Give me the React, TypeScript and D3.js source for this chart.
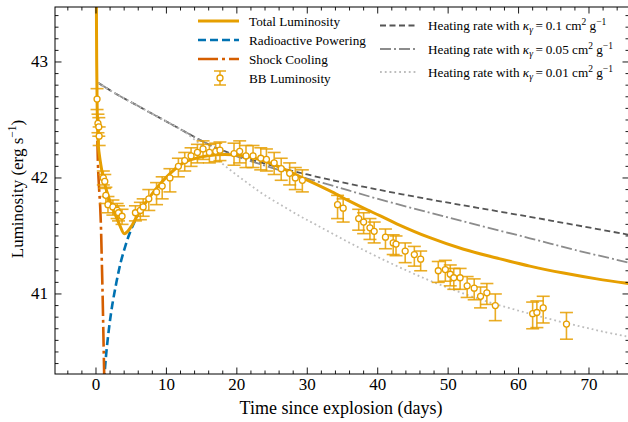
import * as d3 from "d3";

// model curves, [day, log10 L]
const totalLum: [number, number][] = [
  [0.05, 43.6], [0.1, 43.0], [0.17, 42.6], [0.33, 42.28], [0.57, 42.16], [1.04, 42.0],
  [1.75, 41.84], [2.7, 41.69], [3.4, 41.59], [4.0, 41.52], [4.5, 41.54], [5.1, 41.59],
  [6.0, 41.69], [7.67, 41.84], [10.04, 42.01], [12.4, 42.13], [14.8, 42.18], [17.1, 42.2],
  [19.5, 42.2], [21.9, 42.18], [24.2, 42.14], [26.6, 42.08], [29.0, 42.01], [31.3, 41.945],
  [33.5, 41.88], [36.0, 41.8], [38.0, 41.74], [40.3, 41.675], [42.7, 41.605], [47.4, 41.485],
  [52.2, 41.385], [56.9, 41.31], [61.6, 41.24], [66.4, 41.18], [71.1, 41.13], [75.7, 41.09],
];
const radioactive: [number, number][] = [
  [1.15, 40.25], [1.4, 40.45], [1.8, 40.68], [2.3, 40.9], [2.9, 41.1], [3.5, 41.27],
  [4.1, 41.4], [4.7, 41.51], [5.3, 41.6], [6.0, 41.69],
];
const shockCooling: [number, number][] = [
  [0.2, 42.32], [0.3, 42.08], [0.45, 41.9], [0.6, 41.75], [0.72, 41.55], [0.82, 41.3],
  [0.92, 41.05], [1.02, 40.75], [1.1, 40.5], [1.2, 40.2],
];
const heat010: [number, number][] = [
  [0.3, 42.82], [3, 42.72], [6, 42.62], [9, 42.52], [12, 42.42], [15, 42.32], [17, 42.26],
  [20, 42.195], [23, 42.14], [27, 42.075], [30, 42.03], [33.2, 41.985], [40, 41.9],
  [47.4, 41.815], [54, 41.745], [61.6, 41.665], [68, 41.595], [75.7, 41.51],
];
const heat005: [number, number][] = [
  [0.3, 42.82], [3, 42.72], [6, 42.62], [9, 42.52], [12, 42.42], [15, 42.32], [17, 42.26],
  [20, 42.185], [23, 42.125], [27, 42.05], [30, 41.995], [33.2, 41.94], [36, 41.89],
  [40.3, 41.815], [47.4, 41.7], [54.5, 41.59], [61.6, 41.48], [68, 41.38], [75.7, 41.27],
];
const heat001: [number, number][] = [
  [0.3, 42.82], [3, 42.72], [6, 42.62], [9, 42.52], [12, 42.42], [14, 42.33], [16, 42.225],
  [18, 42.12], [20, 42.025], [22, 41.935], [24, 41.85], [26.6, 41.755], [29, 41.67],
  [31.3, 41.595], [34.2, 41.5], [37, 41.41], [40.3, 41.31], [44, 41.205], [47.4, 41.115],
  [51, 41.03], [54.5, 40.955], [58, 40.89], [61.6, 40.83], [65, 40.775], [68.8, 40.72],
  [72, 40.675], [75.7, 40.63],
];

// blackbody luminosity points
const bbDay = [
  0.15, 0.28, 0.4, 0.45, 1.04, 1.25, 1.4, 1.7, 2.4, 3.0, 3.2, 3.7, 5.6, 6.3, 6.7, 7.5,
  8.6, 9.4, 10.5, 11.7, 12.6, 13.5, 14.4, 15.2, 16.1, 17.0, 17.6, 19.6, 20.4, 21.3, 22.3,
  23.4, 24.2, 25.3, 26.3, 27.5, 28.3, 29.3, 34.3, 35.1, 37.3, 38.0, 38.9, 39.5, 41.1,
  42.2, 42.6, 43.9, 45.2, 46.1, 48.6, 49.6, 50.3, 50.8, 51.7, 52.7, 53.7, 54.6, 55.5,
  56.7, 62.0, 62.6, 63.5, 66.8,
];
const bbLog = [
  42.68, 42.47, 42.44, 42.36, 42.0, 41.97, 41.85, 41.77, 41.75, 41.72, 41.7, 41.67, 41.7,
  41.72, 41.75, 41.82, 41.88, 41.93, 42.0, 42.1, 42.15, 42.19, 42.22, 42.25, 42.22, 42.23,
  42.24, 42.21, 42.23, 42.19, 42.19, 42.17, 42.16, 42.13, 42.08, 42.04, 42.0, 41.98,
  41.77, 41.74, 41.65, 41.62, 41.57, 41.54, 41.49, 41.44, 41.43, 41.37, 41.34, 41.3,
  41.2, 41.21, 41.17, 41.14, 41.14, 41.07, 41.05, 40.98, 41.01, 40.9, 40.83, 40.84,
  40.88, 40.74,
];
const bbErrLo = [
  0.09, 0.08, 0.08, 0.08, 0.06, 0.06, 0.07, 0.07, 0.07, 0.07, 0.07, 0.07, 0.07, 0.08,
  0.08, 0.1, 0.11, 0.11, 0.12, 0.09, 0.09, 0.09, 0.09, 0.09, 0.09, 0.09, 0.09, 0.1, 0.1,
  0.1, 0.1, 0.1, 0.1, 0.1, 0.1, 0.1, 0.1, 0.1, 0.12, 0.12, 0.1, 0.1, 0.1, 0.1, 0.1, 0.1,
  0.1, 0.1, 0.1, 0.1, 0.1, 0.1, 0.1, 0.1, 0.1, 0.1, 0.1, 0.1, 0.1, 0.13, 0.13, 0.13,
  0.13, 0.13,
];
const bbErrHi = [
  0.09, 0.08, 0.08, 0.08, 0.06, 0.06, 0.07, 0.07, 0.06, 0.06, 0.06, 0.06, 0.06, 0.07,
  0.07, 0.08, 0.08, 0.08, 0.08, 0.07, 0.07, 0.07, 0.07, 0.07, 0.07, 0.07, 0.07, 0.09,
  0.09, 0.09, 0.09, 0.09, 0.09, 0.09, 0.09, 0.09, 0.09, 0.09, 0.08, 0.08, 0.08, 0.08,
  0.08, 0.08, 0.07, 0.07, 0.07, 0.07, 0.07, 0.07, 0.08, 0.08, 0.08, 0.08, 0.08, 0.08,
  0.08, 0.08, 0.08, 0.1, 0.1, 0.1, 0.1, 0.1,
];

const xTicks = [0, 10, 20, 30, 40, 50, 60, 70];
const yTicks = [41, 42, 43];
const heatingKappa = ["0.1", "0.05", "0.01"];

const ORANGE = "#E69F00";
const BLUE = "#0072B2";
const VERM = "#D55E00";
const FONT = "'Liberation Serif', 'Times New Roman', serif";

function App() {
  const left = 55, right = 629, top = 7, bottom = 374;
  const x = d3.scaleLinear().domain([-5.82, 75.68]).range([left, right]);
  const y = d3.scaleLinear().domain([40.31, 43.474]).range([bottom, top]);
  const line = d3
    .line<[number, number]>()
    .x((d) => x(d[0]))
    .y((d) => y(d[1]))
    .curve(d3.curveCatmullRom.alpha(0.5));

  const xMinor = d3.range(-4, 76, 2).filter((v) => v % 10 !== 0);
  const yMinor = d3.range(40.4, 43.45, 0.1).filter((v) => Math.abs(v - Math.round(v)) > 0.01);

  const heatStyles = [
    { color: "#555555", dash: "6,3.5", data: heat010 },
    { color: "#8c8c8c", dash: "11,3,2,3", data: heat005 },
    { color: "#bdbdbd", dash: "1.8,3", data: heat001 },
  ];

  const legY = [21, 40, 59, 78];
  const legY2 = [25.5, 49, 72];

  return (
    <svg
      width={628}
      height={422}
      style={{ position: "absolute", left: 0, top: 0, background: "#fff" }}
      fontFamily={FONT}
    >
      <defs>
        <clipPath id="plot">
          <rect x={left} y={top} width={right - left} height={bottom - top} />
        </clipPath>
      </defs>

      <g clipPath="url(#plot)">
        {heatStyles.map((h, i) => (
          <path key={i} d={line(h.data) ?? ""} fill="none" stroke={h.color} strokeWidth={1.8} strokeDasharray={h.dash} />
        ))}
        <path d={line(radioactive) ?? ""} fill="none" stroke={BLUE} strokeWidth={2.6} strokeDasharray="8,4" />
        <path d={line(shockCooling) ?? ""} fill="none" stroke={VERM} strokeWidth={2.6} strokeDasharray="20,4,3,4" />
        <path d={line(totalLum) ?? ""} fill="none" stroke={ORANGE} strokeWidth={3} />
        {bbDay.map((d, i) => {
          const cx = x(d);
          const y1 = y(bbLog[i] + bbErrHi[i]);
          const y2 = y(bbLog[i] - bbErrLo[i]);
          return (
            <g key={i} stroke={ORANGE} strokeOpacity={0.85} strokeWidth={1.6}>
              <line x1={cx} x2={cx} y1={y1} y2={y2} />
              <line x1={cx - 6.5} x2={cx + 6.5} y1={y1} y2={y1} />
              <line x1={cx - 6.5} x2={cx + 6.5} y1={y2} y2={y2} />
            </g>
          );
        })}
        {bbDay.map((d, i) => (
          <circle key={i} cx={x(d)} cy={y(bbLog[i])} r={3} fill="#fff" stroke={ORANGE} strokeWidth={1.3} />
        ))}
      </g>

      {/* ticks, inward on all sides */}
      <g stroke="#000" strokeWidth={0.9}>
        {xTicks.map((t) => (
          <g key={"xt" + t}>
            <line x1={x(t)} x2={x(t)} y1={bottom} y2={bottom - 6.5} />
            <line x1={x(t)} x2={x(t)} y1={top} y2={top + 6.5} />
          </g>
        ))}
        {xMinor.map((t) => (
          <g key={"xm" + t}>
            <line x1={x(t)} x2={x(t)} y1={bottom} y2={bottom - 3.5} />
            <line x1={x(t)} x2={x(t)} y1={top} y2={top + 3.5} />
          </g>
        ))}
        {yTicks.map((t) => (
          <g key={"yt" + t}>
            <line x1={left} x2={left + 6.5} y1={y(t)} y2={y(t)} />
            <line x1={right} x2={right - 6.5} y1={y(t)} y2={y(t)} />
          </g>
        ))}
        {yMinor.map((t, i) => (
          <g key={"ym" + i}>
            <line x1={left} x2={left + 3.5} y1={y(t)} y2={y(t)} />
            <line x1={right} x2={right - 3.5} y1={y(t)} y2={y(t)} />
          </g>
        ))}
      </g>
      <rect x={left} y={top} width={right - left} height={bottom - top} fill="none" stroke="#000" strokeWidth={1} />

      {/* tick labels */}
      {xTicks.map((t) => (
        <text key={"xl" + t} x={x(t)} y={389.5} fontSize={17} textAnchor="middle">
          {t}
        </text>
      ))}
      {yTicks.map((t) => (
        <text key={"yl" + t} x={48} y={y(t) + 5.5} fontSize={17} textAnchor="end">
          {t}
        </text>
      ))}

      <text x={(left + right) / 2 - 1} y={414} fontSize={18} textAnchor="middle">
        Time since explosion (days)
      </text>
      <text transform="translate(23,189) rotate(-90)" fontSize={17} textAnchor="middle">
        Luminosity (erg s
        <tspan fontSize={11.5} dy={-7}>
          −1
        </tspan>
        <tspan dy={7}>)</tspan>
      </text>

      {/* left legend */}
      <g fontSize={13.2}>
        <line x1={198} x2={239} y1={legY[0]} y2={legY[0]} stroke={ORANGE} strokeWidth={3} />
        <line x1={198} x2={239} y1={legY[1]} y2={legY[1]} stroke={BLUE} strokeWidth={2.6} strokeDasharray="8,4" />
        <line x1={198} x2={239} y1={legY[2]} y2={legY[2]} stroke={VERM} strokeWidth={2.6} strokeDasharray="20,4,3,4" />
        <g stroke={ORANGE} strokeOpacity={0.85} strokeWidth={1.6}>
          <line x1={220} x2={220} y1={legY[3] - 7} y2={legY[3] + 7} />
          <line x1={214} x2={226} y1={legY[3] - 7} y2={legY[3] - 7} />
          <line x1={214} x2={226} y1={legY[3] + 7} y2={legY[3] + 7} />
        </g>
        <circle cx={220} cy={legY[3]} r={3} fill="#fff" stroke={ORANGE} strokeWidth={1.3} />
        {["Total Luminosity", "Radioactive Powering", "Shock Cooling", "BB Luminosity"].map((s, i) => (
          <text key={s} x={249} y={legY[i] + 4.5}>
            {s}
          </text>
        ))}
      </g>

      {/* right legend */}
      <g fontSize={13.2}>
        {heatStyles.map((h, i) => (
          <g key={"hl" + i}>
            <line x1={380} x2={417} y1={legY2[i]} y2={legY2[i]} stroke={h.color} strokeWidth={1.8} strokeDasharray={h.dash} />
            <text x={428} y={legY2[i] + 4.5}>
              Heating rate with{" "}
              <tspan fontStyle="italic">κ</tspan>
              <tspan fontStyle="italic" fontSize={9.5} dy={3}>
                γ
              </tspan>
              <tspan dy={-3}>{"\u2009=\u2009" + heatingKappa[i] + " cm"}</tspan>
              <tspan fontSize={9.5} dy={-5}>
                2
              </tspan>
              <tspan dy={5}> g</tspan>
              <tspan fontSize={9.5} dy={-5}>
                −1
              </tspan>
            </text>
          </g>
        ))}
      </g>
    </svg>
  );
}

export default App;
